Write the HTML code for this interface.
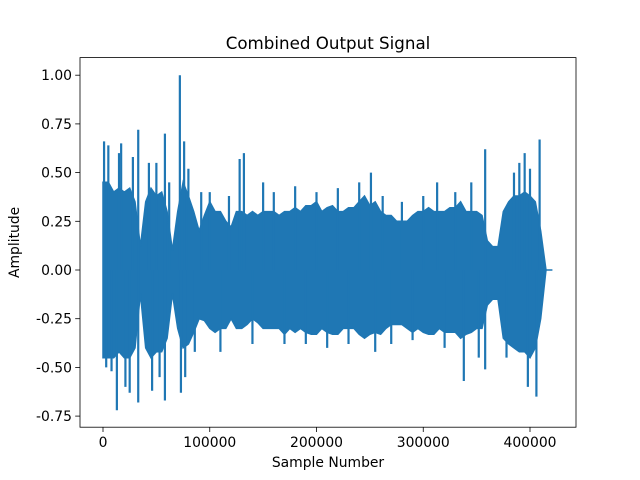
<!DOCTYPE html>
<html><head><meta charset="utf-8"><style>
html,body{margin:0;padding:0;background:#fff}
svg{display:block;font-family:"DejaVu Sans","Liberation Sans",sans-serif}
</style></head><body>
<svg id="chart" width="640" height="480" viewBox="0 0 640 480">
<rect width="640" height="480" fill="#fff"/>
<text x="328" y="49" text-anchor="middle" font-size="16.7" fill="#000">Combined Output Signal</text>
<g id="plot"></g>
<rect x="80" y="57.6" width="496" height="369.6" fill="none" stroke="#000" stroke-width="0.8"/>
<g id="xt"></g>
<g id="yt"></g>
<text x="328" y="467" text-anchor="middle" font-size="13.9">Sample Number</text>
<text transform="translate(19,242.4) rotate(-90)" text-anchor="middle" font-size="13.9">Amplitude</text>
</svg>
<script>
// envelope bins every 5000 samples (0 .. 415000)
const binStep = 5000;
const envHi = [.45,.45,.4,.42,.4,.42,.35,.12,.35,.42,.38,.4,.3,.1,.3,.45,.38,.3,.2,.28,.35,.3,.3,.25,.22,.3,.3,.28,.3,.28,.3,.3,.3,.28,.3,.3,.32,.3,.33,.33,.35,.3,.32,.33,.3,.3,.32,.32,.35,.38,.33,.35,.3,.28,.28,.25,.25,.25,.28,.3,.3,.32,.3,.3,.3,.32,.32,.35,.3,.3,.3,.28,.15,.12,.12,.3,.35,.38,.38,.4,.38,.35,.2,0];
const envLo = [-.45,-.45,-.45,-.42,-.45,-.45,-.4,-.12,-.4,-.45,-.42,-.42,-.35,-.12,-.3,-.4,-.38,-.32,-.25,-.26,-.3,-.32,-.3,-.3,-.25,-.3,-.3,-.28,-.25,-.27,-.3,-.3,-.3,-.3,-.33,-.3,-.32,-.3,-.32,-.33,-.33,-.3,-.32,-.33,-.33,-.3,-.3,-.3,-.33,-.35,-.33,-.32,-.33,-.3,-.28,-.28,-.28,-.3,-.32,-.3,-.32,-.33,-.33,-.3,-.32,-.32,-.32,-.35,-.33,-.32,-.3,-.3,-.18,-.15,-.15,-.35,-.38,-.4,-.42,-.42,-.45,-.4,-.25,0];
const spikeSamples = [1000,3000,5000,8000,13000,15000,17000,21000,25000,28000,33000,33000,43000,46000,50000,53000,58000,58000,62000,72000,73000,76000,77000,80000,86000,92000,100000,110000,118000,128000,132000,140000,150000,160000,170000,180000,190000,200000,210000,220000,230000,240000,251000,255000,262000,270000,280000,290000,300000,313000,320000,330000,338000,345000,352000,358000,358000,378000,385000,390000,395000,398000,400000,406000,409000];
const spikeValues = [.66,-.5,.64,-.52,-.72,.6,.65,-.6,-.63,.58,.72,-.68,.55,-.62,.55,-.55,.7,-.67,.45,1.0,-.63,.66,-.55,.52,-.42,.4,.4,-.42,.38,.57,.6,-.38,.45,.4,-.38,.43,-.38,.4,-.4,.42,-.38,.45,.5,-.42,.38,-.38,.35,-.36,.38,.45,-.4,.4,-.57,.45,-.45,.62,-.51,-.45,.5,.55,.6,-.6,.52,-.65,.67];
const xTicks = [0,100000,200000,300000,400000];
const yTicks = [-0.75,-0.5,-0.25,0,0.25,0.5,0.75,1.0];
const flatEnd = 421000;

const NS='http://www.w3.org/2000/svg';
const sx = s => 103 + s*0.0010675;
const sy = v => 270 - v*194.8;
const plot = document.getElementById('plot');
const C = '#1f77b4';

let pts = [];
for (let i=0;i<envHi.length;i++) pts.push(sx(i*binStep).toFixed(1)+','+sy(envHi[i]).toFixed(1));
for (let i=envLo.length-1;i>=0;i--) pts.push(sx(i*binStep).toFixed(1)+','+sy(envLo[i]).toFixed(1));
const poly = document.createElementNS(NS,'polygon');
poly.setAttribute('points', pts.join(' '));
poly.setAttribute('fill', C);
poly.setAttribute('stroke', C);
poly.setAttribute('stroke-width', '1.5');


plot.appendChild(poly);

spikeSamples.forEach((s,i)=>{
  const l = document.createElementNS(NS,'line');
  l.setAttribute('x1', sx(s)); l.setAttribute('x2', sx(s));
  l.setAttribute('y1', sy(0)); l.setAttribute('y2', sy(spikeValues[i]));
  l.setAttribute('stroke', C); l.setAttribute('stroke-width', '2.2');
  
  
  plot.appendChild(l);
});
const fl = document.createElementNS(NS,'line');
fl.setAttribute('x1', sx((envHi.length-1)*binStep)); fl.setAttribute('x2', sx(flatEnd));
fl.setAttribute('y1', sy(0)); fl.setAttribute('y2', sy(0));
fl.setAttribute('stroke', C); fl.setAttribute('stroke-width', '1.5');


plot.appendChild(fl);

const xt = document.getElementById('xt');
xTicks.forEach(t=>{
  const x = sx(t);
  const l = document.createElementNS(NS,'line');
  l.setAttribute('x1',x); l.setAttribute('x2',x); l.setAttribute('y1',427.2); l.setAttribute('y2',432);
  l.setAttribute('stroke','#000'); l.setAttribute('stroke-width','0.8');
  
  
  xt.appendChild(l);
  const tx = document.createElementNS(NS,'text');
  tx.setAttribute('x',x); tx.setAttribute('y',447); tx.setAttribute('text-anchor','middle'); tx.setAttribute('font-size','13.9');
  tx.textContent = String(t);
  
  
  xt.appendChild(tx);
});
const yt = document.getElementById('yt');
yTicks.forEach(t=>{
  const y = sy(t);
  const l = document.createElementNS(NS,'line');
  l.setAttribute('x1',75.2); l.setAttribute('x2',80); l.setAttribute('y1',y); l.setAttribute('y2',y);
  l.setAttribute('stroke','#000'); l.setAttribute('stroke-width','0.8');
  
  
  yt.appendChild(l);
  const tx = document.createElementNS(NS,'text');
  tx.setAttribute('x',72); tx.setAttribute('y',y+5); tx.setAttribute('text-anchor','end'); tx.setAttribute('font-size','13.9');
  tx.textContent = t.toFixed(2);
  
  
  yt.appendChild(tx);
});
</script>
</body></html>
